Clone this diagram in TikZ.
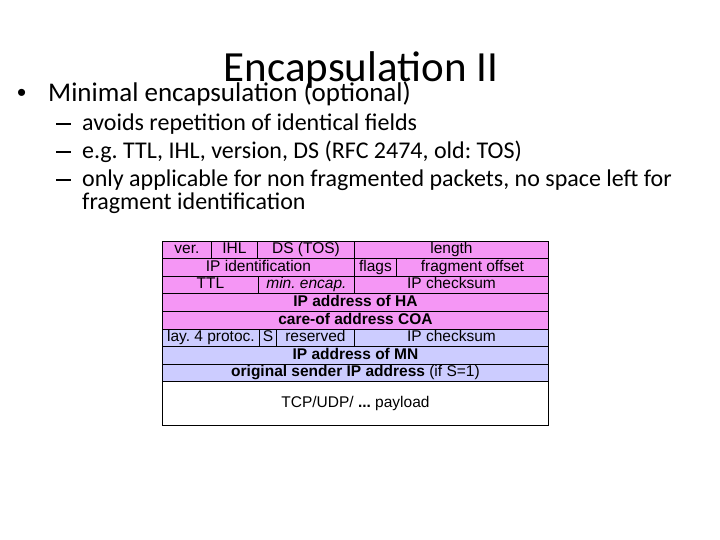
\documentclass[tikz,border=0pt]{standalone}
\usepackage{fontspec}
\setmainfont{Carlito}
\newfontfamily\arialfont{Liberation Sans}
\usepackage{tikz}
\frenchspacing
\definecolor{hdrpink}{RGB}{245,150,245}
\definecolor{hdrblue}{RGB}{204,204,255}
\tikzset{
  field/.style={draw,line width=0.9pt,inner sep=0pt,anchor=north west,
    minimum height=17.6pt,text height=11pt,text depth=3.2pt,
    font=\arialfont\fontsize{15.5}{16}\selectfont},
  slidetxt/.style={inner sep=0pt,anchor=base west,font=\fontsize{24}{28}\selectfont}
}
% one header field: name, fill, left x, right x, row, text
\newcommand{\fld}[6]{\node[field,fill=#2,minimum width={(#4-#3)*1pt}] (#1) at (#3,{240.5+17.6*#5}) {#6};}
\newcommand{\dash}{\makebox[26pt][l]{\rule[6.4pt]{15pt}{1.5pt}}}

\begin{document}
\begin{tikzpicture}[x=1pt,y=-1pt]
  \useasboundingbox[fill=white] (0,0) rectangle (720,540);
  % slide text
  \node[inner sep=0pt,anchor=base,font=\fontsize{43}{50}\selectfont] (title) at (361,82) {Encapsulation II};
  \node[slidetxt,font=\fontsize{27}{32}\selectfont] (main) at (17,102)
    {\makebox[31pt][l]{\arialfont\fontsize{26}{26}\selectfont •}Minimal encapsulation (optional)};
  \node[slidetxt] (s1) at (56,131) {\dash avoids repetition of identical fields};
  \node[slidetxt] (s2) at (56,159) {\dash e.g. TTL, IHL, version, DS (RFC 2474, old: TOS)};
  \node[slidetxt] (s3) at (56,187) {\dash only applicable for non fragmented packets, no space left for};
  \node[slidetxt] (s3b) at (82,210) {fragment identification};
  % header fields
  \fld{ver}{hdrpink}{162}{211}{0}{ver.}
  \fld{ihl}{hdrpink}{211}{257}{0}{IHL}
  \fld{ds}{hdrpink}{257}{354}{0}{DS (TOS)}
  \fld{len}{hdrpink}{354}{548}{0}{length}
  \fld{ident}{hdrpink}{162}{354}{1}{IP identification}
  \fld{flags}{hdrpink}{354}{396}{1}{flags}
  \fld{fragoff}{hdrpink}{396}{548}{1}{fragment offset}
  \fld{ttl}{hdrpink}{162}{258}{2}{TTL}
  \fld{minenc}{hdrpink}{258}{354}{2}{\itshape min. encap.}
  \fld{chka}{hdrpink}{354}{548}{2}{IP checksum}
  \fld{haaddr}{hdrpink}{162}{548}{3}{\bfseries IP address of HA}
  \fld{coa}{hdrpink}{162}{548}{4}{\bfseries care-of address COA}
  \fld{proto}{hdrblue}{162}{259}{5}{lay. 4 protoc.}
  \fld{sbit}{hdrblue}{259}{276}{5}{S}
  \fld{resv}{hdrblue}{276}{354}{5}{reserved}
  \fld{chkb}{hdrblue}{354}{548}{5}{IP checksum}
  \fld{mnaddr}{hdrblue}{162}{548}{6}{\bfseries IP address of MN}
  \fld{origsrc}{hdrblue}{162}{548}{7}{\textbf{original sender IP address} (if S=1)}
  \node[field,fill=white,minimum width=386pt,minimum height=43.7pt] (payload) at (162,381.3) {TCP/UDP/ \textbf{...} payload};
\end{tikzpicture}
\end{document}
